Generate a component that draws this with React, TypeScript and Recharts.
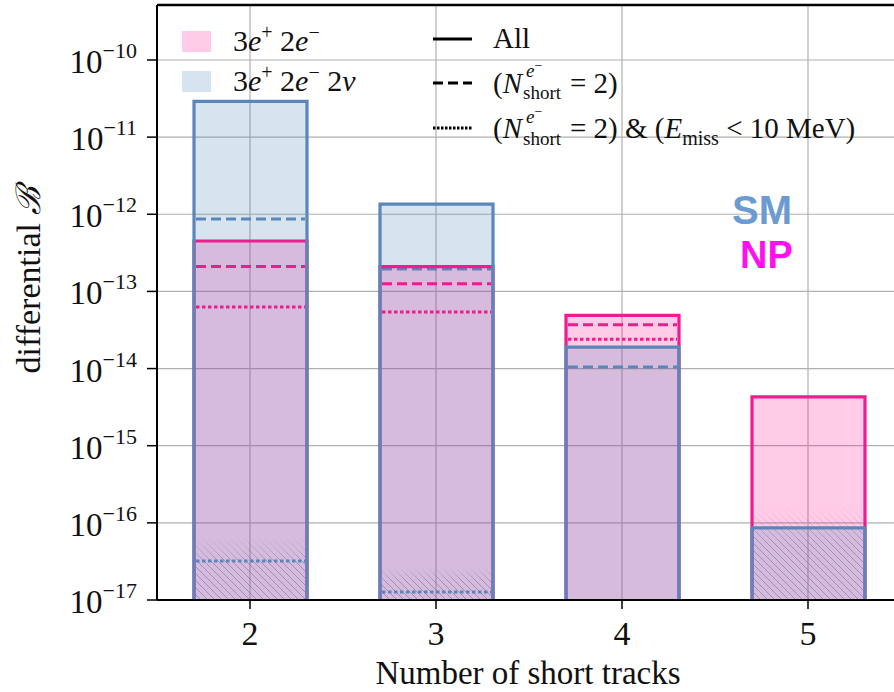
import { ComposedChart, Bar, XAxis, YAxis, CartesianGrid, ReferenceLine } from 'recharts';

const categories = ['2', '3', '4', '5'];
// SM: 3e+ 2e- 2nu, NP: 3e+ 2e-
const smAll = [2.9e-11, 1.35e-12, 1.9e-14, 8.6e-17];
const smShort = [8.7e-13, 1.95e-13, 1.05e-14, null];
const smShortEmiss = [3.2e-17, 1.27e-17, null, null];
const npAll = [4.5e-13, 2.1e-13, 4.9e-14, 4.3e-15];
const npShort = [2.1e-13, 1.26e-13, 3.7e-14, null];
const npShortEmiss = [6.3e-14, 5.4e-14, 2.4e-14, null];
const lowStat = [6.6e-17, 2.6e-17, null, 1.6e-16];
const yTicks = [1e-17, 1e-16, 1e-15, 1e-14, 1e-13, 1e-12, 1e-11, 1e-10];
const Y_MIN = 1e-17;
const Y_MAX = 5.16e-10;

const PINK = '#ee1d8f';
const BLUE = '#5b86b9';
const PINK_FILL = 'rgba(255, 20, 147, 0.22)';
const BLUE_FILL = 'rgba(70, 130, 180, 0.22)';
const SERIF = "'Liberation Serif', 'DejaVu Serif', serif";
const SANS = "'Liberation Sans', Arial, sans-serif";

const data = categories.map((cat, i) => ({
  cat,
  smAll: smAll[i],
  smShort: smShort[i],
  smShortEmiss: smShortEmiss[i],
  npAll: npAll[i],
  npShort: npShort[i],
  npShortEmiss: npShortEmiss[i],
  lowStat: lowStat[i],
}));

const DASHED = '10 5';
const DOTTED = '3.5 2.5';

type Series = { key: string; kind: 'fill' | 'outline' | 'line' | 'hatch'; color: string; dash?: string };

// drawing order matters: fills, hatch, lines, outlines
const series: Series[] = [
  { key: 'npAll', kind: 'fill', color: PINK_FILL },
  { key: 'smAll', kind: 'fill', color: BLUE_FILL },
  { key: 'lowStat', kind: 'hatch', color: '' },
  { key: 'smShort', kind: 'line', color: BLUE, dash: DASHED },
  { key: 'smShortEmiss', kind: 'line', color: BLUE, dash: DOTTED },
  { key: 'npShort', kind: 'line', color: PINK, dash: DASHED },
  { key: 'npShortEmiss', kind: 'line', color: PINK, dash: DOTTED },
  { key: 'npAll', kind: 'outline', color: PINK },
  { key: 'smAll', kind: 'outline', color: BLUE },
];

function makeShape(s: Series) {
  return (props: any) => {
    const { x, y, width, height, payload } = props;
    if (payload[s.key] == null || !isFinite(y)) return <g />;
    if (s.kind === 'fill') {
      return <rect x={x} y={y} width={width} height={height} fill={s.color} />;
    }
    if (s.kind === 'hatch') {
      return <rect x={x} y={y} width={width} height={height} fill="url(#hatch)" mask="url(#fade)" />;
    }
    if (s.kind === 'outline') {
      return (
        <path
          d={`M${x},${y + height} L${x},${y} L${x + width},${y} L${x + width},${y + height}`}
          fill="none"
          stroke={s.color}
          strokeWidth={3.2}
        />
      );
    }
    return (
      <line x1={x + 2} x2={x + width - 2} y1={y} y2={y} stroke={s.color} strokeWidth={3} strokeDasharray={s.dash} />
    );
  };
}

const YTick = (props: any) => {
  const { x, y, payload } = props;
  const exp = Math.round(Math.log10(payload.value));
  return (
    <text x={x} y={y + 13} textAnchor="end" fontFamily={SERIF} fontSize={33} fill="#111">
      10
      <tspan dy={-15} fontSize={22}>
        {'\u2212' + Math.abs(exp)}
      </tspan>
    </text>
  );
};

const XTick = (props: any) => {
  const { x, y, payload } = props;
  return (
    <text x={x} y={y + 36} textAnchor="middle" fontFamily={SERIF} fontSize={34} fill="#111">
      {payload.value}
    </text>
  );
};

export default function App() {
  return (
    <div style={{ position: 'fixed', left: 0, top: 0, width: 894, height: 692, overflow: 'hidden', background: '#fff' }}>
      <ComposedChart width={920} height={692} data={data} margin={{ top: 5, right: 19, bottom: 62, left: 0 }}>
        <CartesianGrid stroke="#b0b0b0" strokeWidth={1.2} />
        <XAxis
          dataKey="cat"
          height={30}
          tick={<XTick />}
          tickSize={9}
          tickMargin={0}
          axisLine={{ stroke: '#000', strokeWidth: 2 }}
          tickLine={{ stroke: '#000', strokeWidth: 1.5 }}
          label={{
            content: () => (
              <text x={528} y={684} textAnchor="middle" fontFamily={SERIF} fontSize={33} fill="#111">
                Number of short tracks
              </text>
            ),
          }}
        />
        {series.map((s, i) => (
          <XAxis key={'ax' + i} xAxisId={'s' + i} dataKey="cat" hide />
        ))}
        <YAxis
          scale="log"
          domain={[Y_MIN, Y_MAX]}
          allowDataOverflow
          ticks={yTicks}
          width={157}
          tick={<YTick />}
          tickSize={10}
          tickMargin={10}
          axisLine={{ stroke: '#000', strokeWidth: 2 }}
          tickLine={{ stroke: '#000', strokeWidth: 1.5 }}
          label={{
            content: () => (
              <text
                transform="rotate(-90)"
                x={-280}
                y={40}
                textAnchor="middle"
                fontFamily={SERIF}
                fontSize={34}
                fill="#111"
              >
                differential <tspan fontStyle="italic">ℬ</tspan>
              </text>
            ),
          }}
        />
        <ReferenceLine y={Y_MAX} stroke="#000" strokeWidth={2.5} />
        {series.map((s, i) => (
          <Bar
            key={'b' + i}
            xAxisId={'s' + i}
            dataKey={s.key}
            barSize={113}
            isAnimationActive={false}
            shape={makeShape(s)}
          />
        ))}
      </ComposedChart>

      <svg width={894} height={692} style={{ position: 'absolute', left: 0, top: 0, pointerEvents: 'none' }}>
        <defs>
          <pattern id="hatch" patternUnits="userSpaceOnUse" width={7} height={7}>
            <path d="M0,0 L7,7 M-1,6 L1,8 M6,-1 L8,1" stroke="rgba(80,100,140,0.45)" strokeWidth={1} />
          </pattern>
          <linearGradient id="fadeGrad" x1="0" y1="0" x2="0" y2="1">
            <stop offset="0" stopColor="#fff" stopOpacity={0} />
            <stop offset="0.4" stopColor="#fff" stopOpacity={1} />
            <stop offset="1" stopColor="#fff" stopOpacity={1} />
          </linearGradient>
          <mask id="fade" maskContentUnits="objectBoundingBox">
            <rect width={1} height={1} fill="url(#fadeGrad)" />
          </mask>
        </defs>

        {/* legend: fills */}
        <rect x={182} y={31} width={29} height={21} fill={PINK_FILL} />
        <rect x={182} y={71} width={29} height={21} fill={BLUE_FILL} />
        <text x={233} y={51} fontFamily={SERIF} fontSize={30} fill="#111">
          3<tspan fontStyle="italic">e</tspan>
          <tspan dy={-12} fontSize={20}>+</tspan>
          <tspan dy={12}> 2</tspan>
          <tspan fontStyle="italic">e</tspan>
          <tspan dy={-12} fontSize={20}>{'\u2212'}</tspan>
        </text>
        <text x={233} y={91} fontFamily={SERIF} fontSize={30} fill="#111">
          3<tspan fontStyle="italic">e</tspan>
          <tspan dy={-12} fontSize={20}>+</tspan>
          <tspan dy={12}> 2</tspan>
          <tspan fontStyle="italic">e</tspan>
          <tspan dy={-12} fontSize={20}>{'\u2212'}</tspan>
          <tspan dy={12}> 2</tspan>
          <tspan fontStyle="italic">ν</tspan>
        </text>

        {/* legend: line styles */}
        <line x1={433} x2={472} y1={39} y2={39} stroke="#000" strokeWidth={3} />
        <line x1={433} x2={472} y1={83} y2={83} stroke="#000" strokeWidth={3} strokeDasharray={DASHED} />
        <line x1={433} x2={472} y1={128} y2={128} stroke="#000" strokeWidth={3} strokeDasharray="2.5 1.5" />
        <text x={493} y={48} fontFamily={SERIF} fontSize={29} fill="#111">
          All
        </text>
        <text x={493} y={93} fontFamily={SERIF} fontSize={29} fill="#111">
          (<tspan fontStyle="italic">N</tspan>
        </text>
        <text x={526} y={77} fontFamily={SERIF} fontSize={19} fill="#111">
          <tspan fontStyle="italic">e</tspan>
          <tspan dy={-7} fontSize={14}>{'\u2212'}</tspan>
        </text>
        <text x={523} y={99} fontFamily={SERIF} fontSize={19} fill="#111">
          short
        </text>
        <text x={570} y={93} fontFamily={SERIF} fontSize={29} fill="#111">
          = 2)
        </text>
        <text x={493} y={138} fontFamily={SERIF} fontSize={29} fill="#111">
          (<tspan fontStyle="italic">N</tspan>
        </text>
        <text x={526} y={123} fontFamily={SERIF} fontSize={19} fill="#111">
          <tspan fontStyle="italic">e</tspan>
          <tspan dy={-7} fontSize={14}>{'\u2212'}</tspan>
        </text>
        <text x={523} y={145} fontFamily={SERIF} fontSize={19} fill="#111">
          short
        </text>
        <text x={570} y={138} fontFamily={SERIF} fontSize={29} fill="#111">
          = 2) &amp; (<tspan fontStyle="italic">E</tspan>
          <tspan dy={7} fontSize={20}>miss</tspan>
          <tspan dy={-7}> &lt; 10 MeV)</tspan>
        </text>

        <text x={732} y={224} fontFamily={SANS} fontWeight="bold" fontSize={40} fill="#6c9bd2">
          SM
        </text>
        <text x={740} y={268} fontFamily={SANS} fontWeight="bold" fontSize={38} fill="#ff10ee">
          NP
        </text>
      </svg>
    </div>
  );
}
